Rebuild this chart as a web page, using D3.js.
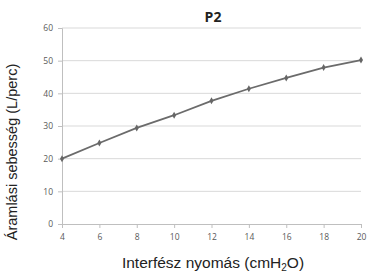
<!DOCTYPE html>
<html>
<head>
<meta charset="utf-8">
<script src="https://cdn.jsdelivr.net/npm/d3@7"></script>
<style>
  body { margin: 0; background: #fff; }
  svg { display: block; }
</style>
</head>
<body>
<svg id="chart" width="369" height="272"></svg>
<script>
const pressures = [4, 6, 8, 10, 12, 14, 16, 18, 20];
const flows = [20, 24.8, 29.4, 33.3, 37.7, 41.4, 44.7, 47.9, 50.2];
const yTicks = [0, 10, 20, 30, 40, 50, 60];

const svg = d3.select("#chart");
const margin = {left: 62, right: 8, top: 28, bottom: 48};
const width = 369, height = 272;

const x = d3.scaleLinear().domain([4, 20]).range([margin.left, width - margin.right]);
const y = d3.scaleLinear().domain([0, 60]).range([height - margin.bottom, margin.top]);

// gridlines
svg.append("g")
    .selectAll("line")
    .data(yTicks.slice(1))
    .enter()
    .append("line")
    .attr("x1", margin.left)
    .attr("x2", width - margin.right)
    .attr("y1", d => y(d))
    .attr("y2", d => y(d))
    .style("stroke", "#d9d9d9")
    .style("stroke-width", 1);

const yAxis = svg.append("g")
    .attr("transform", `translate(${margin.left},0)`)
    .call(d3.axisLeft(y).tickValues(yTicks).tickSize(4).tickPadding(5));
yAxis.select(".domain").style("stroke", "#bfbfbf");
yAxis.selectAll(".tick line").style("stroke", "#bfbfbf");
yAxis.selectAll("text")
    .style("font-family", "'Open Sans', sans-serif")
    .style("font-size", "8.5px")
    .style("fill", "#595959");

const xAxis = svg.append("g")
    .attr("transform", `translate(0,${y(0)})`)
    .call(d3.axisBottom(x).tickValues(pressures).tickSize(4).tickPadding(6));
xAxis.select(".domain").style("stroke", "#bfbfbf");
xAxis.selectAll(".tick line").style("stroke", "#bfbfbf");
xAxis.selectAll("text")
    .style("font-family", "'Open Sans', sans-serif")
    .style("font-size", "8.5px")
    .style("fill", "#595959");

const pts = pressures.map((p, i) => [p, flows[i]]);

svg.append("path")
    .datum(pts)
    .attr("d", d3.line().x(d => x(d[0])).y(d => y(d[1])))
    .style("fill", "none")
    .style("stroke", "#6b6b6b")
    .style("stroke-width", 1.8);

svg.append("g")
    .selectAll("path")
    .data(pts)
    .enter()
    .append("path")
    .attr("d", d3.symbol().type(d3.symbolDiamond).size(14))
    .attr("transform", d => `translate(${x(d[0])},${y(d[1])})`)
    .style("fill", "#666");

svg.append("text")
    .attr("x", 213)
    .attr("y", 22)
    .attr("text-anchor", "middle")
    .style("font-family", "'Open Sans', sans-serif")
    .style("font-weight", "bold")
    .style("font-size", "14px")
    .style("fill", "#222")
    .text("P2");

const xl = svg.append("text")
    .attr("x", 213)
    .attr("y", 268)
    .attr("text-anchor", "middle")
    .style("font-family", "'Liberation Sans', Arial, sans-serif")
    .style("font-size", "15.5px")
    .style("fill", "#222");
xl.append("tspan").text("Interfész nyomás (cmH");
xl.append("tspan").attr("dy", 3).style("font-size", "10px").text("2");
xl.append("tspan").attr("dy", -3).text("O)");

svg.append("text")
    .attr("transform", "translate(17,152) rotate(-90)")
    .attr("text-anchor", "middle")
    .style("font-family", "'Liberation Sans', Arial, sans-serif")
    .style("font-size", "14.5px")
    .style("fill", "#222")
    .text("Áramlási sebesség (L/perc)");
</script>
</body>
</html>
